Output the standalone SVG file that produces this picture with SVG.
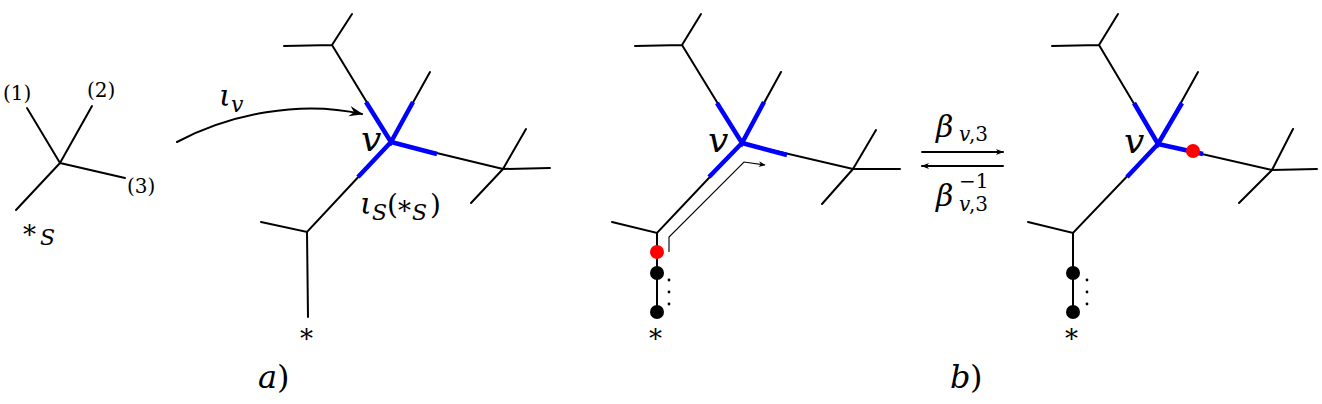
<svg xmlns="http://www.w3.org/2000/svg" width="1322" height="404" viewBox="0 0 1322 404">
<style>
.e{stroke:#000;stroke-width:2;fill:none;stroke-linecap:round}
.b{stroke:#0000ff;stroke-width:4.5;fill:none;stroke-linecap:butt}
.t{stroke:#000;stroke-width:1.1;fill:none}
text{font-family:"DejaVu Serif",serif;fill:#000}
.m{font-style:italic}
.dot{fill:#000}
.red{fill:#ff0000}
</style>
<defs>
<marker id="ah" viewBox="0 0 10 10" refX="9" refY="5" markerWidth="8" markerHeight="8" markerUnits="userSpaceOnUse" orient="auto">
<path d="M0,1 L10,5 L0,9 L3,5 Z" fill="#000"/>
</marker>
<marker id="ahs" viewBox="0 0 10 10" refX="9" refY="5" markerWidth="7" markerHeight="7" markerUnits="userSpaceOnUse" orient="auto">
<path d="M0,1 L10,5 L0,9 L3,5 Z" fill="#000"/>
</marker>
<marker id="ahb" viewBox="0 0 12 10" refX="11" refY="5" markerWidth="14" markerHeight="12" markerUnits="userSpaceOnUse" orient="auto">
<path d="M0,0.5 L12,5 L0,9.5 L4,5 Z" fill="#000"/>
</marker>
</defs>

<g id="tree-s">
<path class="e" d="M60,163 L27,108 M60,163 L92,106 M60,163 L125,178 M60,163 L16,210"/>
<text class="r" x="3" y="100" font-size="20">(1)</text>
<text class="r" x="87" y="97" font-size="20">(2)</text>
<text class="r" x="127" y="193" font-size="20">(3)</text>
<text class="r" x="23" y="244" font-size="26">*</text>
<text class="m" x="40" y="245" font-size="22">S</text>
</g>

<g id="tree-a">
<path class="e" d="M391,142 L332,45 L284,46 M332,45 L352,14 M391,142 L430,72 M391,142 L503,169 L550,168 M503,169 L526,129 M503,169 L471,203 M391,142 L307,232 L261,222 M307,232 L308,317"/>
<path class="b" d="M366,102 L391,142 L413,102 M391,142 L437,154 M391,142 L358,177"/>
<text class="m" x="361" y="151" font-size="36">v</text>
<text class="m" x="360" y="214" font-size="30">ι</text>
<text class="m" x="372" y="220" font-size="22">S</text>
<text class="r" x="387" y="214" font-size="28">(</text>
<text class="r" x="398" y="220" font-size="26">*</text>
<text class="m" x="412" y="220" font-size="22">S</text>
<text class="r" x="430" y="214" font-size="28">)</text>
<text class="r" x="300" y="348" font-size="26">*</text>
<text class="m" x="258" y="388" font-size="32">a</text>
<text class="r" x="277" y="388" font-size="32">)</text>
</g>

<g id="tree-b1">
<path class="e" d="M742,143 L682,45 L635,46 M682,45 L701,14 M742,143 L781,72 M742,143 L853,169 L900,169 M853,169 L876,130 M853,169 L822,204 M742,143 L657,233 L612,222 M657,233 L657,312"/>
<path class="b" d="M717,103 L742,143 L764,102 M742,143 L787,155 M742,143 L709,177"/>
<circle class="red" cx="657" cy="252" r="7"/>
<circle class="dot" cx="657" cy="273" r="7"/>
<circle class="dot" cx="657" cy="312" r="7"/>
<circle class="dot" cx="669" cy="280" r="1.4"/>
<circle class="dot" cx="669" cy="292" r="1.4"/>
<circle class="dot" cx="669" cy="304" r="1.4"/>
<text class="m" x="708" y="152" font-size="36">v</text>
<text class="r" x="649" y="348" font-size="26">*</text>
</g>

<g id="tree-b2">
<path class="e" d="M1158,144 L1099,45 L1052,46 M1099,45 L1118,14 M1158,144 L1198,72 M1158,144 L1272,170 L1317,169 M1272,170 L1293,129 M1272,170 L1239,203 M1158,144 L1073,233 L1028,222 M1073,233 L1073,312"/>
<path class="b" d="M1134,103 L1158,144 L1182,103 M1158,144 L1203,154 M1158,144 L1127,177"/>
<circle class="red" cx="1193" cy="151" r="7"/>
<circle class="dot" cx="1073" cy="273" r="7"/>
<circle class="dot" cx="1073" cy="312" r="7"/>
<circle class="dot" cx="1087" cy="280" r="1.4"/>
<circle class="dot" cx="1087" cy="292" r="1.4"/>
<circle class="dot" cx="1087" cy="304" r="1.4"/>
<text class="m" x="1124" y="153" font-size="36">v</text>
<text class="r" x="1065" y="348" font-size="26">*</text>
</g>

<g id="connectors">
<path class="e" d="M177,142 C230,114 300,100 362,114" marker-end="url(#ahb)"/>
<path class="t" d="M669,252 L669,237 L744,162 L765,165" marker-end="url(#ahs)"/>
<path class="e" stroke-width="1.6" d="M922,152 L1003,152" marker-end="url(#ah)"/>
<path class="e" stroke-width="1.6" d="M1003,166 L922,166" marker-end="url(#ah)"/>
</g>

<g id="labels">
<text class="m" x="219" y="106" font-size="30">ι</text>
<text class="m" x="231" y="112" font-size="22">v</text>
<text class="m" x="936" y="137" font-size="30">β</text>
<text class="m" x="959" y="141" font-size="20">v</text>
<text class="r" x="969" y="141" font-size="20">,3</text>
<text class="m" x="936" y="206" font-size="30">β</text>
<text class="r" x="959" y="188" font-size="20">−1</text>
<text class="m" x="959" y="211" font-size="20">v</text>
<text class="r" x="969" y="211" font-size="20">,3</text>
<text class="m" x="950" y="388" font-size="32">b</text>
<text class="r" x="970" y="388" font-size="32">)</text>
</g>
</svg>
